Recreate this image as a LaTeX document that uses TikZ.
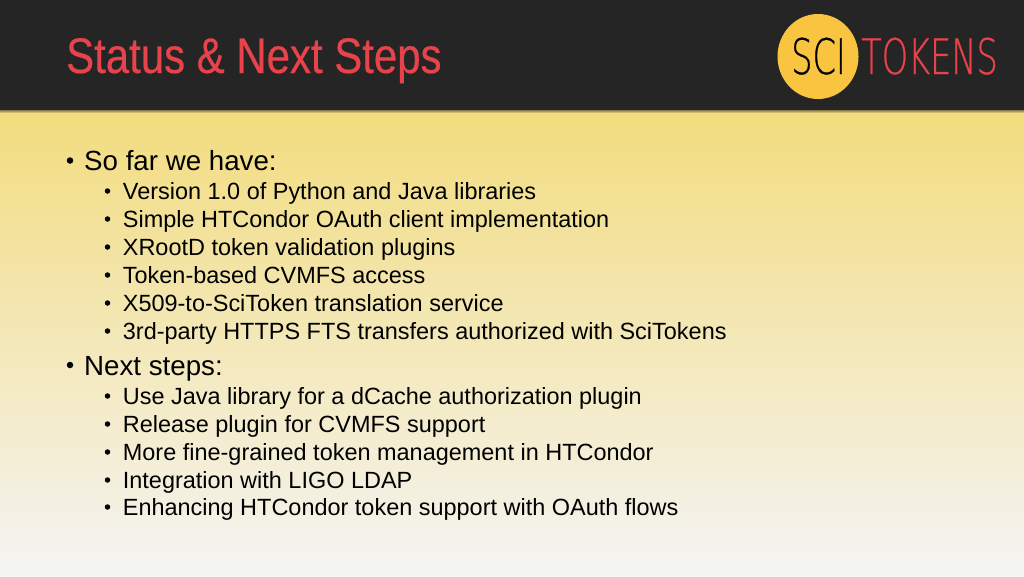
\documentclass[tikz,border=0pt]{standalone}
\usepackage{fontspec}
\setmainfont{Liberation Sans}
\newfontfamily\logofont[FakeStretch=0.685,FakeBold=0.5]{DejaVu Sans ExtraLight}
\newfontfamily\ttlfont[FakeBold=0.4]{Liberation Sans}
\usetikzlibrary{shadings}
\definecolor{hdr}{HTML}{252525}
\definecolor{ttl}{HTML}{E8424A}
\definecolor{gold}{HTML}{F9C440}
\definecolor{bgtop}{HTML}{F3DC7E}
\definecolor{bgbot}{HTML}{F4F4F4}
\tikzset{
 lvlone/.style={anchor=base west,inner sep=0pt,font=\fontsize{27.7}{28}\selectfont,text=black},
 lvltwo/.style={anchor=base west,inner sep=0pt,font=\fontsize{23.46}{24}\selectfont,text=black},
 bulone/.style={circle,fill=black,inner sep=0pt,minimum size=6.5pt},
 bultwo/.style={circle,fill=black,inner sep=0pt,minimum size=5.5pt},
}
\begin{document}
\begin{tikzpicture}[x=1pt,y=-1pt]
\useasboundingbox (0,0) rectangle (1024,576);
\shade[top color=bgtop,bottom color=bgbot,middle color=bgtop!50!bgbot] (0,110) rectangle (1024,576);
\shade[top color=black!60!bgtop,bottom color=bgtop] (0,109) rectangle (1024,113);
\fill[hdr] (0,0) rectangle (1024,110);
\node[anchor=base west,inner sep=0pt,text=ttl,xscale=0.839,font=\ttlfont\fontsize{50}{50}\selectfont] (title) at (66,73) {Status \& Next Steps};
\fill[gold] (818,56.5) ellipse [x radius=40.5,y radius=42.5];
\node[anchor=base west,inner sep=0pt,font=\logofont\fontsize{49}{49}\selectfont,text=black] (sci) at (791,74) {SCI};
\node[anchor=base west,inner sep=0pt,font=\logofont\fontsize{49}{49}\selectfont,text=ttl] (tok) at (861,74) {TOKENS};
\node[bulone] (b1) at (70,160.5) {};
\node[lvlone] (t1) at (84,170) {So far we have:};
\foreach \n/\y/\s in {a/199/Version 1.0 of Python and Java libraries,
 b/227/Simple HTCondor OAuth client implementation,
 c/255/XRootD token validation plugins,
 d/283/Token-based CVMFS access,
 e/311/X509-to-SciToken translation service,
 f/339/3rd-party HTTPS FTS transfers authorized with SciTokens,
 g/404/Use Java library for a dCache authorization plugin,
 h/432/Release plugin for CVMFS support,
 i/460/More fine-grained token management in HTCondor,
 j/488/Integration with LIGO LDAP,
 k/515/Enhancing HTCondor token support with OAuth flows}{
 \node[bultwo] (bu\n) at (107.5,\y-8) {};
 \node[lvltwo] (tx\n) at (122.7,\y) {\s};
}
\node[bulone] (b2) at (70,365) {};
\node[lvlone] (t2) at (84,375) {Next steps:};
\end{tikzpicture}
\end{document}
